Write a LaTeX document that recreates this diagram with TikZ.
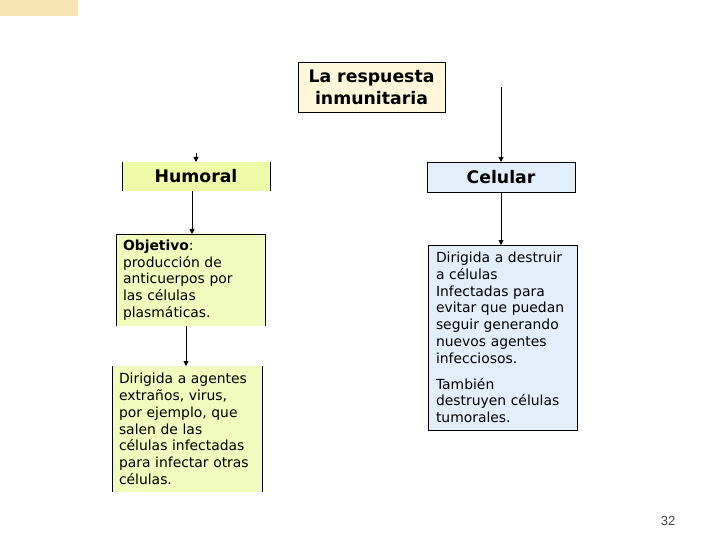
\documentclass[tikz,border=0pt]{standalone}
\usepackage{fontspec}
\setmainfont{DejaVu Sans}
\newfontfamily\numfont{Liberation Sans}
\usetikzlibrary{arrows.meta}
\definecolor{creamfill}{RGB}{255,247,218}
\definecolor{humfill}{RGB}{238,250,168}
\definecolor{objfill}{RGB}{241,251,190}
\definecolor{celfill}{RGB}{227,238,251}
\definecolor{decofill}{RGB}{246,227,176}
\tikzset{
  boxbase/.style={anchor=north west, inner sep=0pt, outer sep=0pt},
  titlebox/.style={boxbase, font=\fontsize{17.3}{22}\selectfont\bfseries, align=center},
  bodybox/.style={boxbase, inner xsep=7pt, align=left, font=\fontsize{13.9}{16.8}\selectfont},
  edge/.style={line width=0.8pt, black},
  arr/.style={edge, -{Triangle[length=5pt,width=5pt]}},
}
\begin{document}
\begin{tikzpicture}[x=1pt,y=-1pt]
\useasboundingbox (0,0) rectangle (720,540);
\fill[decofill] (0,0) rectangle (78,16);

% title
\node[titlebox, fill=creamfill, draw=black, line width=0.8pt, minimum width=147pt, minimum height=50pt] (top) at (298,62) {La respuesta\\inmunitaria};

% Humoral
\node[titlebox, fill=humfill, minimum width=148pt, minimum height=29pt] (hum) at (122,162) {Humoral};
\draw[edge] (hum.north west) -- (hum.south west);
\draw[edge] (hum.north east) -- (hum.south east);

% Celular
\node[titlebox, fill=celfill, draw=black, line width=0.8pt, minimum width=148pt, minimum height=30pt] (cel) at (427,162) {Celular};

% Objetivo
\node[bodybox, fill=objfill, text width=135pt, minimum height=92pt] (obj) at (116,234)
  {\textbf{Objetivo}:\\producción de\\anticuerpos por\\las células\\plasmáticas.};
\draw[edge] (obj.south west) -- (obj.north west) -- (obj.north east) -- (obj.south east);

% bottom left
\node[bodybox, fill=objfill, inner xsep=7pt, text width=136pt, minimum height=126pt] (bl) at (112,366)
  {Dirigida a agentes\\extraños, virus,\\por ejemplo, que\\salen de las\\células infectadas\\para infectar otras\\células.};
\draw[edge] (bl.north west) -- (bl.south west);
\draw[edge] (bl.north east) -- (bl.south east);

% right box
\node[bodybox, fill=celfill, draw=black, line width=0.8pt, inner xsep=8pt, text width=133pt, minimum height=185pt] (rb) at (428,245)
  {Dirigida a destruir\\a células\\Infectadas para\\evitar que puedan\\seguir generando\\nuevos agentes\\infecciosos.\\[9pt]También\\destruyen células\\tumorales.};

% connectors
\coordinate (hstart) at (196,153);
\coordinate (cstart) at (501,87);
\draw[arr] (hstart) -- (hum.north);
\draw[arr] (cstart) -- (cel.north);
\draw[arr] ([xshift=-4pt]hum.south) -- ([xshift=1.5pt]obj.north);
\draw[arr] ([xshift=-4.5pt]obj.south) -- ([xshift=-1pt]bl.north);
\draw[arr] (cel.south) -- ([xshift=-1.5pt]rb.north);

\node[font=\numfont\fontsize{13}{15}\selectfont, text=black!75] (pg) at (668,521) {32};
\end{tikzpicture}
\end{document}
